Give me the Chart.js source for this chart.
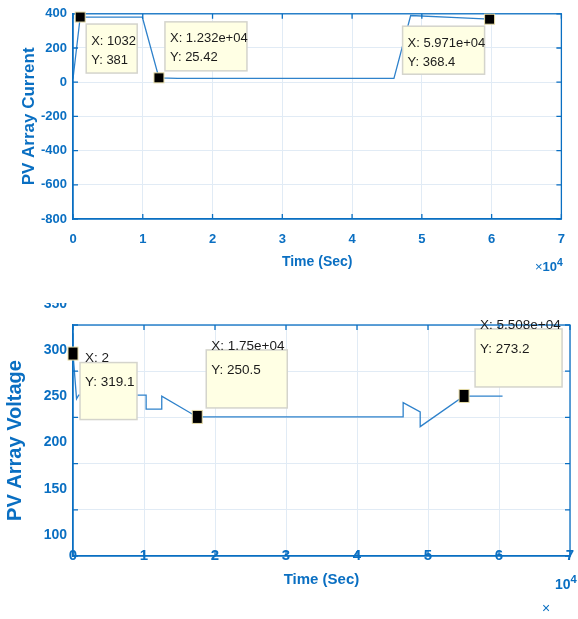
<!DOCTYPE html>
<html>
<head>
<meta charset="utf-8">
<script src="https://cdn.jsdelivr.net/npm/chart.js@4.4.1/dist/chart.umd.min.js"></script>
<style>
  body { margin: 0; background: #fff; width: 578px; height: 619px; overflow: hidden; position: relative; }
  canvas { position: absolute; left: 0; }
  #top { top: 0; }
  #bot { top: 303px; }
  .exp { position: absolute; color: #0a6fc2; white-space: nowrap; font-family: 'Liberation Sans', Arial, sans-serif; }
  .exp sup { font-size: 0.8em; }
</style>
</head>
<body>
<canvas id="top" width="578" height="290"></canvas>
<canvas id="bot" width="578" height="316"></canvas>
<div class="exp" style="left:535px;top:257px;font-weight:bold;font-size:13px;"><span style="font-weight:normal">×</span>10<sup>4</sup></div>
<div class="exp" style="left:555px;top:573px;font-weight:bold;font-size:14px;">10<sup>4</sup></div>
<div class="exp" style="left:542px;top:600px;font-size:14px;">×</div>
<script>
// courant du champ PV (temps en secondes)
const timeCur = [0, 1032, 4500, 9940, 12320, 15000, 46000, 48400, 55000, 59710];
const current = [20, 381, 380, 380, 25.42, 22, 22, 390, 378, 368.4];

// tension du champ PV
const timeVolt = [0, 2, 500, 800, 10300, 10300, 12500, 12500, 17500, 46500, 46500, 48900, 48900, 55080, 55300, 60500];
const voltage = [341, 319.1, 270, 274, 274, 259, 259, 273, 250.5, 250.5, 266, 256, 240, 273.2, 273, 273];

// graduations
const xTicks = [0, 10000, 20000, 30000, 40000, 50000, 60000, 70000];
const curTicks = [-800, -600, -400, -200, 0, 200, 400];
const voltTicks = [100, 150, 200, 250, 300, 350];

// data tips (points marqués)
const tipCurX = [1032, 12320, 59710];
const tipCurY = [381, 25.42, 368.4];
const tipVoltX = [2, 17500, 55080];
const tipVoltY = [319.1, 250.5, 273.2];

const axisBlue = '#0a6fc2';
const lineBlue = '#2f82cb';
const gridCol = '#e1ebf5';
const sans = "'Liberation Sans', Arial, sans-serif";

function fmt(v) {
  return v >= 1e4 ? v.toExponential().replace('e+', 'e+0') : String(v);
}

// cadre et petites graduations intérieures, comme sous MATLAB
function frame(len) {
  return {
    id: 'frame',
    afterDatasetsDraw(chart) {
      const {ctx, chartArea: a, scales: {x, y}} = chart;
      ctx.save();
      ctx.strokeStyle = axisBlue;
      ctx.lineWidth = 1.3;
      ctx.strokeRect(a.left, a.top, a.right - a.left, a.bottom - a.top);
      ctx.beginPath();
      x.ticks.forEach(t => {
        const p = x.getPixelForValue(t.value);
        ctx.moveTo(p, a.bottom); ctx.lineTo(p, a.bottom - len);
        ctx.moveTo(p, a.top); ctx.lineTo(p, a.top + len);
      });
      y.ticks.forEach(t => {
        const p = y.getPixelForValue(t.value);
        ctx.moveTo(a.left, p); ctx.lineTo(a.left + len, p);
        ctx.moveTo(a.right, p); ctx.lineTo(a.right - len, p);
      });
      ctx.stroke();
      ctx.restore();
    }
  };
}

// étiquettes de l'axe x posées sur l'axe (graphique du bas)
const axisLabels = {
  id: 'axisLabels',
  afterDraw(chart) {
    const {ctx, chartArea: a, scales: {x}} = chart;
    ctx.save();
    ctx.fillStyle = axisBlue;
    ctx.font = 'bold 15px ' + sans;
    ctx.textAlign = 'center';
    ctx.textBaseline = 'middle';
    x.ticks.forEach(t => {
      ctx.fillText(String(t.value / 1e4), x.getPixelForValue(t.value), a.bottom);
    });
    ctx.restore();
  }
};

function tips(xs, ys, boxes, st) {
  return {
    id: 'tips',
    afterDatasetsDraw(chart) {
      const {ctx, scales: {x, y}} = chart;
      ctx.save();
      xs.forEach((xv, i) => {
        const px = x.getPixelForValue(xv), py = y.getPixelForValue(ys[i]);
        const b = boxes[i];
        const bx = px + b[0], by = py + b[1];
        ctx.fillStyle = '#ffffe4';
        ctx.strokeStyle = '#d4d4cc';
        ctx.lineWidth = 1.5;
        ctx.fillRect(bx, by, b[2], b[3]);
        ctx.strokeRect(bx, by, b[2], b[3]);
        ctx.fillStyle = '#1b1b1b';
        ctx.font = st.font;
        ctx.textBaseline = 'middle';
        ctx.fillText('X: ' + fmt(xv), bx + 5, by + st.l1);
        ctx.fillText('Y: ' + fmt(ys[i]), bx + 5, by + st.l2);
        ctx.fillStyle = '#000';
        ctx.strokeStyle = '#e6dca8';
        ctx.lineWidth = 1;
        ctx.fillRect(px - st.mw / 2, py - st.mh / 2, st.mw, st.mh);
        ctx.strokeRect(px - st.mw / 2, py - st.mh / 2, st.mw, st.mh);
      });
      ctx.restore();
    }
  };
}

function pts(xs, ys) {
  return xs.map((v, i) => ({x: v, y: ys[i]}));
}

// graphique du haut : courant
new Chart(document.getElementById('top'), {
  type: 'line',
  data: {
    datasets: [{
      data: pts(timeCur, current),
      borderColor: lineBlue,
      borderWidth: 1.3,
      pointRadius: 0,
      tension: 0
    }]
  },
  options: {
    responsive: false,
    animation: false,
    layout: { padding: { top: 12, right: 12, left: 0, bottom: 0 } },
    plugins: { legend: { display: false }, tooltip: { enabled: false } },
    scales: {
      x: {
        type: 'linear', min: 0, max: 70000,
        afterBuildTicks: s => { s.ticks = xTicks.map(v => ({value: v})); },
        afterFit: s => { s.height = 71; },
        ticks: { callback: v => v / 1e4, color: axisBlue, padding: 13, font: { family: sans, size: 13, weight: 'bold' } },
        grid: { color: gridCol, drawTicks: false },
        border: { color: axisBlue, width: 1.3 },
        title: { display: true, text: 'Time (Sec)', color: axisBlue, padding: { bottom: 19 }, font: { family: sans, size: 14, weight: 'bold' } }
      },
      y: {
        min: -800, max: 400,
        afterBuildTicks: s => { s.ticks = curTicks.map(v => ({value: v})); },
        afterFit: s => { s.width = 73; },
        ticks: { color: axisBlue, padding: 6, font: { family: sans, size: 13, weight: 'bold' } },
        grid: { color: gridCol, drawTicks: false },
        border: { color: axisBlue, width: 1.3 },
        title: { display: true, text: 'PV Array Current', color: axisBlue, padding: { top: 19 }, font: { family: sans, size: 17, weight: 'bold' } }
      }
    }
  },
  plugins: [
    frame(5),
    tips(tipCurX, tipCurY, [[6, 7, 51, 49], [6, -56, 82, 49], [-87, 7, 82, 48]],
      { font: '13px ' + sans, l1: 17, l2: 36, mw: 10, mh: 10 })
  ]
});

// graphique du bas : tension
new Chart(document.getElementById('bot'), {
  type: 'line',
  data: {
    datasets: [{
      data: pts(timeVolt, voltage),
      borderColor: lineBlue,
      borderWidth: 1.3,
      pointRadius: 0,
      tension: 0
    }]
  },
  options: {
    responsive: false,
    animation: false,
    layout: { padding: { top: 22, right: 8, left: 0, bottom: 0 } },
    plugins: { legend: { display: false }, tooltip: { enabled: false } },
    scales: {
      x: {
        type: 'linear', min: 0, max: 70000,
        afterBuildTicks: s => { s.ticks = xTicks.map(v => ({value: v})); },
        afterFit: s => { s.height = 63; },
        ticks: { display: false },
        grid: { color: gridCol, drawTicks: false },
        border: { color: axisBlue, width: 1.3 },
        title: { display: true, text: 'Time (Sec)', color: axisBlue, padding: { bottom: 30 }, font: { family: sans, size: 15, weight: 'bold' } }
      },
      y: {
        min: 100, max: 350,
        afterBuildTicks: s => { s.ticks = voltTicks.map(v => ({value: v})); },
        afterFit: s => { s.width = 73; },
        ticks: { color: axisBlue, padding: 6, labelOffset: -21, font: { family: sans, size: 14, weight: 'bold' } },
        grid: { color: gridCol, drawTicks: false },
        border: { color: axisBlue, width: 1.3 },
        title: { display: true, text: 'PV Array Voltage', color: axisBlue, padding: { top: 3 }, font: { family: sans, size: 20, weight: 'bold' } }
      }
    }
  },
  plugins: [
    frame(5),
    axisLabels,
    tips(tipVoltX, tipVoltY, [[7, 9, 57, 57], [9, -67, 81, 58], [11, -67, 87, 58]],
      { font: '13.5px ' + sans, l1: -4, l2: 20, mw: 10, mh: 13 })
  ]
});
</script>
</body>
</html>
